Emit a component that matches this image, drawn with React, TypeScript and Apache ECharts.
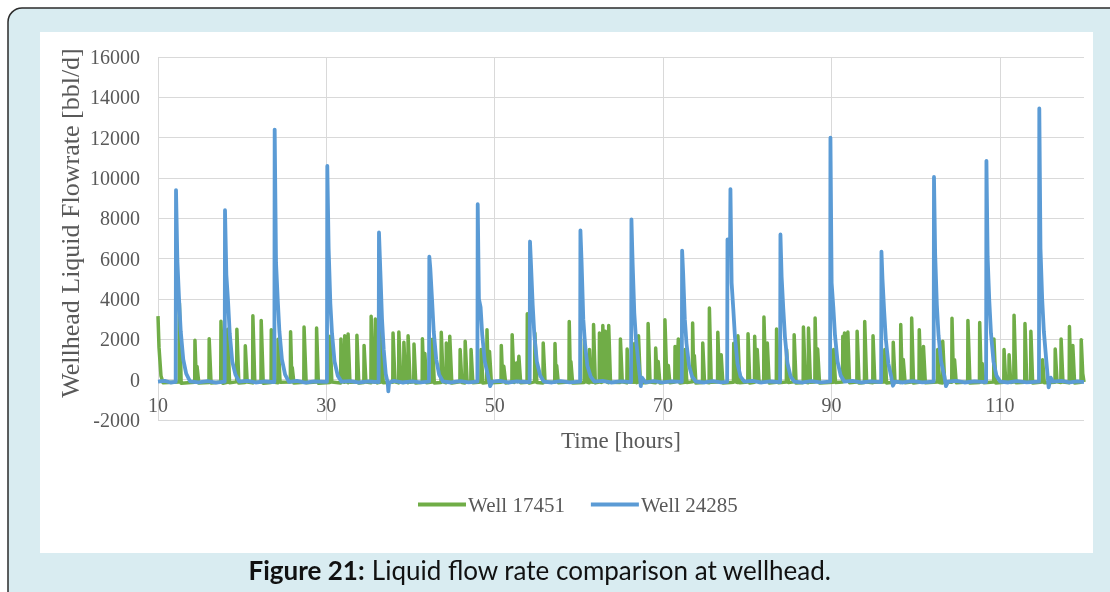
import React, { useEffect, useRef } from "react";
import * as echarts from "echarts";

// Axis ranges (hours on x, bbl/d on y)
const timeRange = [10, 120];
const timeStep = 20;
const rateRange = [-2000, 16000];
const rateStep = 2000;

const seriesNames = ["Well 17451", "Well 24285"];

// Well 17451: frequent short slug peaks, [hours, bbl/d]
const well17451: [number, number][] = [
  [10, 3150], [10.12, 1600], [10.35, 200], [10.6, -150],
  [12.51, -120], [12.54, 3800], [12.75, -180],
  [14.36, -130], [14.39, 1950], [14.55, -100], [14.64, 650], [14.85, -170],
  [16.05, -140], [16.08, 2030], [16.3, -160],
  [17.45, -120], [17.48, 2900], [17.7, -180],
  [18.25, -130], [18.28, 2500], [18.5, -150],
  [19.34, -110], [19.37, 2500], [19.6, -170],
  [20.34, -140], [20.37, 1680], [20.6, -120],
  [21.24, -160], [21.27, 3170], [21.5, -130],
  [22.23, -110], [22.26, 2940], [22.5, -180],
  [23.43, -140], [23.46, 2480], [23.7, -120],
  [24.23, -150], [24.26, 2000], [24.5, -130],
  [25.72, -120], [25.75, 2370], [25.9, -100], [25.95, 600], [26.15, -170],
  [27.32, -130], [27.35, 2610], [27.6, -150],
  [28.81, -110], [28.84, 2560], [29.05, -180],
  [30.41, -140], [30.44, 2150], [30.65, -120],
  [31.7, -160], [31.73, 2020], [31.95, -110],
  [32.15, -130], [32.18, 2180], [32.38, -100], [32.55, -150], [32.58, 2270], [32.8, -130],
  [33.6, -120], [33.63, 2200], [33.85, -170],
  [34.45, -140], [34.48, 1700], [34.7, -120],
  [35.29, -150], [35.32, 3140], [35.55, -110], [35.79, -130], [35.82, 3010], [36.05, -160],
  [36.49, -120], [36.52, 2650], [36.75, -150],
  [37.89, -130], [37.92, 2310], [38.15, -110],
  [38.58, -160], [38.61, 2360], [38.85, -120],
  [39.18, -140], [39.21, 1850], [39.42, -100], [39.68, -150], [39.71, 2180], [39.95, -130],
  [40.38, -110], [40.41, 1770], [40.62, -170],
  [41.38, -130], [41.41, 2030], [41.58, -80], [41.7, 1300], [41.9, -150],
  [42.57, -120], [42.6, 2000], [42.82, -160],
  [43.62, -140], [43.65, 2350], [43.88, -110],
  [44.22, -150], [44.25, 1820], [44.45, -120], [44.63, -130], [44.66, 2150], [44.9, -170],
  [45.86, -110], [45.89, 1490], [46.1, -140],
  [46.46, -160], [46.49, 1900], [46.72, -120],
  [47.16, -130], [47.19, 1490], [47.4, -150],
  [48.35, -120], [48.38, 1500], [48.6, -170],
  [49.05, -140], [49.08, 2480], [49.25, -90], [49.38, 1400], [49.6, -150],
  [50.75, -130], [50.78, 1700], [50.95, -100], [51.08, 660], [51.3, -160],
  [52.04, -120], [52.07, 2230], [52.3, -140], [52.57, 830], [52.7, -100], [52.87, 1160], [53.08, -150],
  [53.84, -130], [53.87, 3270], [54.1, -170],
  [54.74, -110], [54.77, 2310], [55.0, -140],
  [55.73, -160], [55.76, 1820], [55.98, -120],
  [57.13, -130], [57.16, 1790], [57.3, -90], [57.36, 700], [57.55, -150],
  [58.82, -120], [58.85, 2890], [59.0, -80], [59.05, 900], [59.25, -160],
  [60.62, -140], [60.65, 2000], [60.87, -110],
  [61.22, -150], [61.25, 1500], [61.45, -120], [61.71, -130], [61.74, 2730], [61.95, -160],
  [62.41, -120], [62.44, 2310], [62.65, -140], [62.81, -110], [62.84, 2680], [63.0, -90],
  [63.14, 2400], [63.35, -120], [63.51, -150], [63.54, 2680], [63.75, -130],
  [64.9, -140], [64.93, 2020], [65.15, -110],
  [65.7, -160], [65.73, 1520], [65.95, -120],
  [66.6, -130], [66.63, 1800], [66.85, -150],
  [67.05, -110], [67.08, 2180], [67.3, -170],
  [68.19, -140], [68.22, 2780], [68.45, -120],
  [69.09, -150], [69.12, 1570], [69.3, -100], [69.42, 900], [69.62, -160],
  [70.19, -130], [70.22, 2970], [70.45, -110], [70.62, 700], [70.8, -150],
  [71.39, -120], [71.42, 1650], [71.6, -90], [71.81, 2020], [72.0, -160],
  [72.58, -130], [72.61, 1500], [72.82, -140],
  [73.48, -110], [73.51, 2810], [73.65, -80], [73.71, 1200], [73.9, -170],
  [74.68, -140], [74.71, 1820], [74.92, -120],
  [75.47, -150], [75.5, 3550], [75.72, -130],
  [76.47, -120], [76.5, 2350], [76.7, -100], [76.9, 1240], [77.1, -160],
  [78.36, -130], [78.39, 1800], [78.6, -110], [78.86, -140], [78.89, 2180], [79.1, -150],
  [80.06, -120], [80.09, 2280], [80.3, -170],
  [80.85, -130], [80.88, 2150], [81.05, -90], [81.18, 1490], [81.4, -140],
  [81.95, -110], [81.98, 3110], [82.2, -100], [82.38, 1820], [82.6, -160],
  [83.45, -130], [83.48, 2510], [83.7, -150],
  [84.64, -120], [84.67, 1500], [84.88, -140],
  [85.54, -110], [85.57, 2230], [85.8, -170],
  [86.64, -140], [86.67, 2610], [86.9, -120],
  [87.24, -150], [87.27, 2560], [87.5, -130],
  [88.03, -120], [88.06, 3060], [88.22, -90], [88.36, 1520], [88.58, -160],
  [90.23, -130], [90.26, 1500], [90.48, -140],
  [91.32, -110], [91.35, 2150], [91.48, -60], [91.55, 2310], [91.75, -80], [91.95, 2360], [92.15, -150],
  [93.02, -120], [93.05, 2400], [93.28, -170],
  [93.92, -140], [93.95, 2890], [94.18, -120],
  [94.91, -150], [94.94, 2180], [95.15, -130],
  [96.31, -120], [96.34, 1500], [96.55, -160],
  [97.31, -130], [97.34, 1850], [97.55, -110],
  [98.2, -140], [98.23, 2730], [98.4, -90], [98.53, 1000], [98.75, -150],
  [99.5, -120], [99.53, 3060], [99.75, -170],
  [100.4, -130], [100.43, 2480], [100.65, -100], [100.9, -120], [100.93, 1650], [101.15, -150],
  [102.59, -110], [102.62, 1500], [102.82, -140],
  [103.19, -160], [103.22, 1900], [103.45, -120],
  [104.29, -130], [104.32, 3040], [104.5, -90], [104.62, 990], [104.82, -150],
  [106.18, -120], [106.21, 2940], [106.45, -170],
  [107.58, -140], [107.61, 2840], [107.8, -100], [107.91, 800], [108.1, -150],
  [109.27, -120], [109.3, 2020], [109.52, -160],
  [110.47, -130], [110.5, 1490], [110.7, -100], [111.07, -120], [111.1, 1240], [111.3, -140],
  [111.66, -110], [111.69, 3200], [111.92, -150],
  [112.96, -130], [112.99, 2780], [113.2, -90], [113.66, -130], [113.69, 2400], [113.9, -160],
  [115.05, -120], [115.08, 990], [115.28, -150],
  [116.55, -130], [116.58, 1520], [116.8, -110],
  [117.25, -140], [117.28, 2020], [117.5, -120],
  [118.24, -150], [118.27, 2640], [118.45, -100], [118.67, 1700], [118.88, -160],
  [119.64, -130], [119.67, 1980], [119.85, 300], [120, -120],
];

// Well 24285: large slugs roughly every six hours, [hours, bbl/d]
const well24285: [number, number][] = [
  [10, -100], [10.8, -60], [11.5, -140], [12.1, -110],
  [12.14, 9400], [12.3, 5900], [12.5, 4000], [12.7, 2400], [13.0, 1000], [13.35, 300], [13.8, -80],
  [14.8, -130], [15.9, -70], [16.9, -150], [17.92, -100],
  [17.96, 8400], [18.12, 5200], [18.32, 3900], [18.52, 2300], [18.82, 900], [19.2, 250], [19.65, -100],
  [20.6, -60], [21.6, -140], [22.7, -90], [23.82, -120],
  [23.86, 12400], [24.02, 5800], [24.22, 4000], [24.42, 2400], [24.72, 1000], [25.1, 250], [25.55, -110],
  [26.5, -60], [27.5, -150], [28.6, -80], [30.07, -110],
  [30.11, 10600], [30.27, 6500], [30.47, 3800], [30.67, 2300], [30.97, 900], [31.35, 200], [31.8, -100],
  [32.8, -70], [33.8, -140], [35.0, -90], [36.21, -120],
  [36.25, 7300], [36.41, 5400], [36.61, 3000], [36.81, 1500], [37.05, 300], [37.3, -200], [37.36, -580], [37.45, -150], [38.0, -60],
  [39.0, -140], [40.2, -80], [41.2, -130], [42.19, -100],
  [42.23, 6100], [42.35, 5500], [42.55, 4000], [42.75, 2400], [43.05, 1000], [43.4, 250], [43.85, -90],
  [44.8, -140], [45.9, -70], [46.9, -130], [47.94, -100],
  [47.98, 8700], [48.12, 4000], [48.32, 3600], [48.52, 2200], [48.82, 900], [49.2, 200], [49.45, -320], [49.7, -100],
  [50.6, -60], [51.6, -140], [52.6, -90], [54.15, -120],
  [54.19, 6850], [54.31, 5700], [54.51, 3700], [54.71, 2200], [55.0, 900], [55.4, 200], [55.85, -100],
  [56.8, -140], [57.8, -70], [58.9, -130], [60.14, -100],
  [60.18, 7400], [60.32, 5800], [60.52, 3000], [60.72, 1800], [61.0, 700], [61.4, 150], [61.85, -100],
  [62.8, -60], [63.8, -140], [65.0, -80], [66.2, -120],
  [66.24, 7950], [66.38, 5800], [66.58, 3300], [66.78, 2000], [67.08, 800], [67.35, -320], [67.5, 100], [67.9, -130],
  [68.9, -70], [69.9, -140], [71.0, -80], [72.22, -110],
  [72.26, 6400], [72.38, 5300], [72.58, 3000], [72.78, 1800], [73.08, 700], [73.45, 150], [73.9, -100],
  [74.9, -140], [75.9, -70], [76.9, -130], [77.61, -110],
  [77.65, 6950], [77.72, 6800], [77.96, 6900], [78.0, 9450], [78.14, 4800], [78.34, 3500], [78.54, 2100], [78.84, 800], [79.2, 150], [79.65, -100],
  [80.6, -60], [81.6, -140], [82.7, -90], [83.9, -120],
  [83.94, 7200], [84.08, 5100], [84.28, 3500], [84.48, 2100], [84.78, 800], [85.15, 150], [85.6, -100],
  [86.6, -140], [87.6, -70], [88.7, -130], [89.84, -100],
  [89.88, 12000], [90.02, 4800], [90.22, 3600], [90.42, 2200], [90.72, 900], [91.1, 200], [91.55, -100],
  [92.5, -60], [93.5, -140], [94.7, -80], [95.9, -120],
  [95.94, 6350], [96.06, 5000], [96.26, 3400], [96.46, 2000], [96.76, 800], [97.1, 150], [97.3, -300], [97.55, -100],
  [98.5, -140], [99.6, -70], [100.8, -130], [102.14, -100],
  [102.18, 10050], [102.32, 6200], [102.52, 3700], [102.72, 2200], [103.02, 900], [103.4, 200], [103.6, -320], [103.85, -100],
  [104.8, -60], [105.8, -140], [107.0, -80], [108.37, -120],
  [108.41, 10850], [108.55, 6100], [108.75, 3900], [108.95, 2300], [109.25, 900], [109.6, 200], [110.05, -100],
  [111.0, -140], [112.0, -70], [113.2, -130], [114.65, -100],
  [114.69, 13450], [114.83, 6500], [115.03, 4000], [115.23, 2400], [115.53, 900], [115.8, -380], [116.05, 100], [116.35, -100],
  [117.3, -60], [118.3, -140], [119.2, -80], [120, -120],
];

const GREEN = "#70ad47";
const BLUE = "#5b9bd5";
const GRID = "#d9d9d9";
const LABEL = "#595959";
const SERIF = "'Liberation Serif', 'Times New Roman', serif";

export default function App() {
  const ref = useRef<HTMLDivElement>(null);

  useEffect(() => {
    if (!ref.current) return;
    const chart = echarts.init(ref.current, undefined, { renderer: "svg" });

    const option: any = {
      animation: false,
      graphic: [
        { type: "rect", z: -30, silent: true, shape: { x: 0, y: 0, width: 1110, height: 592 }, style: { fill: "#ffffff" } },
        {
          type: "rect", z: -29, silent: true,
          shape: { x: 8, y: 8, width: 1140, height: 640, r: 14 },
          style: { fill: "#d9ecf1", stroke: "#2b2b2b", lineWidth: 1.5 },
        },
        { type: "rect", z: -28, silent: true, shape: { x: 40, y: 32, width: 1053, height: 521 }, style: { fill: "#ffffff" } },
        {
          type: "text", z: 5, x: 70, y: 223, rotation: Math.PI / 2,
          style: {
            text: "Wellhead Liquid Flowrate [bbl/d]", fill: LABEL, fontSize: 26, fontFamily: SERIF,
            align: "center", verticalAlign: "middle", textAlign: "center", textVerticalAlign: "middle",
          },
        },
        {
          type: "text", z: 5, x: 621, y: 440,
          style: {
            text: "Time [hours]", fill: LABEL, fontSize: 23, fontFamily: SERIF,
            align: "center", verticalAlign: "middle", textAlign: "center", textVerticalAlign: "middle",
          },
        },
        {
          type: "text", z: 5, x: 540, y: 570,
          style: {
            text: "{b|Figure 21:} Liquid flow rate comparison at wellhead.",
            fill: "#111111", fontSize: 26, fontFamily: "Lato",
            align: "center", verticalAlign: "middle", textAlign: "center", textVerticalAlign: "middle",
            rich: { b: { fontWeight: "bold", fontSize: 26, fontFamily: "Lato", fill: "#111111" } },
          },
        },
      ],
      legend: {
        data: seriesNames,
        left: 413,
        top: 489,
        icon: "rect",
        itemWidth: 48,
        itemHeight: 4,
        itemGap: 26,
        textStyle: { fontFamily: SERIF, fontSize: 21, color: LABEL, padding: [0, 0, 0, -3] },
      },
      grid: { left: 158, top: 57, width: 926, height: 363, containLabel: false },
      xAxis: {
        type: "value",
        min: timeRange[0],
        max: timeRange[1],
        interval: timeStep,
        axisLine: { show: false },
        axisTick: { show: false },
        axisLabel: {
          inside: true, margin: 5, fontFamily: SERIF, fontSize: 20, color: LABEL,
          showMaxLabel: false, formatter: (v: number) => String(v),
        },
        splitLine: { show: true, showMaxLine: false, lineStyle: { color: GRID, width: 1 } },
      },
      yAxis: {
        type: "value",
        min: rateRange[0],
        max: rateRange[1],
        interval: rateStep,
        axisLine: { show: false },
        axisTick: { show: false },
        axisLabel: { margin: 18, fontFamily: SERIF, fontSize: 20, color: LABEL, formatter: (v: number) => String(v) },
        splitLine: { show: true, lineStyle: { color: GRID, width: 1 } },
      },
      series: [
        {
          name: seriesNames[0],
          type: "line",
          data: well17451,
          symbol: "none",
          showSymbol: false,
          z: 2,
          lineStyle: { color: GREEN, width: 3.5, join: "round" },
          itemStyle: { color: GREEN },
        },
        {
          name: seriesNames[1],
          type: "line",
          data: well24285,
          symbol: "none",
          showSymbol: false,
          z: 3,
          lineStyle: { color: BLUE, width: 3.8, join: "round" },
          itemStyle: { color: BLUE },
        },
      ],
    };

    chart.setOption(option);
    return () => chart.dispose();
  }, []);

  return (
    <div
      ref={ref}
      style={{ position: "fixed", left: 0, top: 0, width: 1110, height: 592 }}
    />
  );
}
